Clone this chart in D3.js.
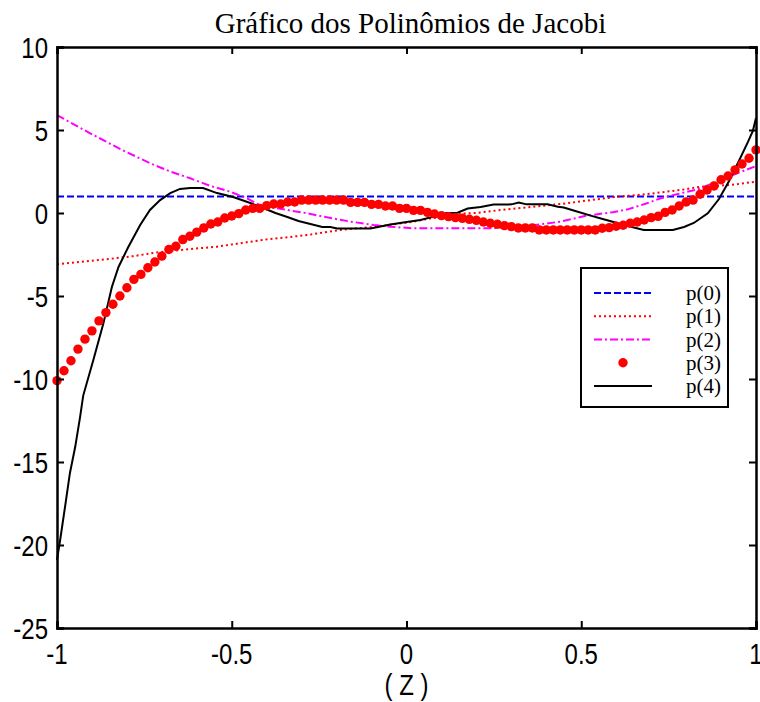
<!DOCTYPE html>
<html>
<head>
<meta charset="utf-8">
<script src="https://cdn.jsdelivr.net/npm/d3@7"></script>
<style>
  body { margin: 0; background: #fff; }
  text { fill: #000; }
</style>
</head>
<body>
<script>
var width = 760, height = 702

// x grid of the p(3) markers, step 0.02
var p3X = d3.range(101).map(function(i) { return -1 + i * 0.02 })
var p0Y = [1, 1]
var p0X = [-1, 1]

var p1X = [-1, -0.877, -0.782, -0.705, -0.619, -0.542, -0.447, -0.395, -0.284, -0.189, -0.095, 0.003, 0.097, 0.146, 0.2, 0.269, 0.335, 0.441, 0.527, 0.603, 0.69, 0.785, 0.842, 0.928, 1]
var p1Y = [-3.08, -2.83, -2.6, -2.35, -2.17, -2.03, -1.73, -1.58, -1.33, -1.02, -0.83, -0.58, -0.22, -0.05, 0.0, 0.18, 0.32, 0.54, 0.78, 0.98, 1.14, 1.39, 1.58, 1.69, 1.89]

var p2X = [-1, -0.905, -0.814, -0.734, -0.676, -0.619, -0.562, -0.504, -0.456, -0.418, -0.352, -0.284, -0.238, -0.16, -0.095, -0.046, 0.02, 0.249, 0.355, 0.441, 0.513, 0.59, 0.633, 0.69, 0.728, 0.785, 0.834, 0.9, 0.951, 1]
var p2Y = [5.9, 4.8, 3.8, 3.0, 2.5, 2.09, 1.64, 1.28, 0.88, 0.45, 0.22, -0.02, -0.22, -0.52, -0.72, -0.83, -0.92, -0.92, -0.76, -0.52, -0.17, 0.05, 0.22, 0.6, 0.89, 1.19, 1.43, 2.0, 2.43, 2.83]

var p3Y = [-10.1, -9.5, -8.9, -8.2, -7.6, -7.1, -6.5, -6.0, -5.5, -5.0,
  -4.5, -4.0, -3.7, -3.3, -2.95, -2.6, -2.2, -2.0, -1.6, -1.4,
  -1.15, -0.9, -0.66, -0.54, -0.3, -0.18, -0.04, 0.18, 0.28, 0.28,
  0.44, 0.54, 0.54, 0.66, 0.66, 0.78, 0.78, 0.78, 0.78, 0.78,
  0.78, 0.78, 0.64, 0.64, 0.64, 0.52, 0.52, 0.42, 0.42, 0.28,
  0.28, 0.16, 0.16, 0.04, -0.06, -0.16, -0.22, -0.28, -0.32, -0.38,
  -0.44, -0.54, -0.62, -0.68, -0.76, -0.82, -0.9, -0.9, -0.9, -1.02,
  -1.02, -1.02, -1.02, -1.02, -1.02, -1.02, -1.02, -1.02, -0.92, -0.88,
  -0.8, -0.74, -0.62, -0.54, -0.42, -0.28, -0.2, 0.04, 0.18, 0.42,
  0.66, 0.78, 1.13, 1.39, 1.63, 2.0, 2.23, 2.6, 2.95, 3.3,
  3.8]

var p4X = [-1, -0.991, -0.977, -0.963, -0.948, -0.934, -0.925, -0.896, -0.867, -0.843, -0.824, -0.796, -0.762, -0.734, -0.705, -0.676, -0.648, -0.619, -0.582, -0.542, -0.496, -0.447, -0.41, -0.375, -0.341, -0.309, -0.275, -0.241, -0.218, -0.198, -0.103, -0.046, 0.0, 0.04, 0.077, 0.115, 0.146, 0.175, 0.212, 0.249, 0.301, 0.321, 0.344, 0.404, 0.433, 0.45, 0.49, 0.527, 0.564, 0.605, 0.642, 0.679, 0.762, 0.794, 0.822, 0.862, 0.894, 0.923, 0.951, 0.977, 0.991, 1]
var p4Y = [-20.9, -19.7, -17.7, -15.66, -14.1, -12.3, -11.0, -8.86, -6.63, -4.46, -3.25, -2.05, -0.72, 0.18, 0.78, 1.2, 1.45, 1.5, 1.5, 1.2, 0.96, 0.6, 0.3, 0.0, -0.24, -0.48, -0.66, -0.84, -0.84, -0.93, -0.93, -0.69, -0.54, -0.42, -0.22, 0.0, 0.02, 0.27, 0.36, 0.51, 0.52, 0.63, 0.52, 0.52, 0.38, 0.33, 0.08, -0.16, -0.38, -0.62, -0.83, -1.02, -1.02, -0.84, -0.6, -0.02, 0.84, 1.93, 3.13, 4.28, 4.94, 5.72]

var xTicks = [-1, -0.5, 0, 0.5, 1]
var yTicks = [-25, -20, -15, -10, -5, 0, 5, 10]
var legendLabels = ["p(0)", "p(1)", "p(2)", "p(3)", "p(4)"]

var mLeft = 57, mRight = 756, mTop = 47, mBottom = 628

var x = d3.scaleLinear().domain([-1, 1]).range([mLeft, mRight])
var y = d3.scaleLinear().domain([-25, 10]).range([mBottom, mTop])

var svg = d3.select("body").append("svg")
    .attr("width", width)
    .attr("height", height)
    .style("font-family", "'Liberation Sans', Arial, sans-serif")

function zip(xs, ys) { return xs.map(function(v, i) { return [v, ys[i]] }) }

var line = d3.line()
    .x(function(d) { return x(d[0]) })
    .y(function(d) { return y(d[1]) })

// curves
svg.append("path") //p(0)
    .attr("d", line(zip(p0X, p0Y)))
    .attr("fill", "none")
    .attr("stroke", "#0000ff")
    .attr("stroke-width", 2)
    .attr("stroke-dasharray", "7,3")

svg.append("path") //p(1)
    .attr("d", line(zip(p1X, p1Y)))
    .attr("fill", "none")
    .attr("stroke", "#ff0000")
    .attr("stroke-width", 2)
    .attr("stroke-dasharray", "2,3")

svg.append("path") //p(2)
    .attr("d", line(zip(p2X, p2Y)))
    .attr("fill", "none")
    .attr("stroke", "#ff00ff")
    .attr("stroke-width", 2)
    .attr("stroke-dasharray", "8,3,2,3")

svg.append("path") //p(4)
    .attr("d", line(zip(p4X, p4Y)))
    .attr("fill", "none")
    .attr("stroke", "#000")
    .attr("stroke-width", 2)

svg.selectAll("circle.p3") //p(3) markers
    .data(zip(p3X, p3Y))
  .enter().append("circle")
    .attr("class", "p3")
    .attr("cx", function(d) { return x(d[0]) })
    .attr("cy", function(d) { return y(d[1]) })
    .attr("r", 4.7)
    .attr("fill", "#ff0000")

// axes box
var xAxisB = d3.axisBottom(x).tickValues(xTicks).tickSize(-7).tickFormat("")
var xAxisT = d3.axisTop(x).tickValues(xTicks).tickSize(-7).tickFormat("")
var yAxisL = d3.axisLeft(y).tickValues(yTicks).tickSize(-7).tickFormat("")
var yAxisR = d3.axisRight(y).tickValues(yTicks).tickSize(-7).tickFormat("")

var axes = [
  svg.append("g").attr("transform", "translate(0," + mBottom + ")").call(xAxisB),
  svg.append("g").attr("transform", "translate(0," + mTop + ")").call(xAxisT),
  svg.append("g").attr("transform", "translate(" + mLeft + ",0)").call(yAxisL),
  svg.append("g").attr("transform", "translate(" + mRight + ",0)").call(yAxisR)
]
axes.forEach(function(g) {
  g.select(".domain").attr("stroke-width", 2.5).attr("stroke", "#000")
  g.selectAll(".tick line").attr("stroke-width", 2).attr("stroke", "#000")
})

// tick labels: tall, narrow sans like the original
function narrow(sel, px, py) {
  sel.attr("transform", function(d) { return "translate(" + px(d) + "," + py(d) + ") scale(0.8,1)" })
    .style("font-size", "30px")
}

svg.selectAll("text.xl")
    .data(xTicks)
  .enter().append("text")
    .attr("class", "xl")
    .attr("text-anchor", "middle")
    .text(function(d) { return d })
    .call(narrow, function(d) { return x(d) }, function() { return 664 })

svg.selectAll("text.yl")
    .data(yTicks)
  .enter().append("text")
    .attr("class", "yl")
    .attr("text-anchor", "end")
    .text(function(d) { return d })
    .call(narrow, function() { return 48 }, function(d) { return y(d) + 11 })

svg.append("text")
    .attr("text-anchor", "middle")
    .datum(0)
    .text("( Z )")
    .call(narrow, function() { return (mLeft + mRight) / 2 }, function() { return 695 })

svg.append("text") //TITLE
    .attr("x", (mLeft + mRight) / 2 + 4)
    .attr("y", 33)
    .attr("text-anchor", "middle")
    .style("font-family", "'Liberation Serif', 'Times New Roman', serif")
    .style("font-size", "29px")
    .text("Gráfico dos Polinômios de Jacobi")

// legend
var lg = svg.append("g").attr("transform", "translate(581,268)")
lg.append("rect")
    .attr("width", 147).attr("height", 139)
    .attr("fill", "#fff").attr("stroke", "#000").attr("stroke-width", 2)

var legendStyle = [
  {stroke: "#0000ff", dash: "7,3"},
  {stroke: "#ff0000", dash: "2,3"},
  {stroke: "#ff00ff", dash: "8,3,2,3"},
  {marker: true},
  {stroke: "#000", dash: null}
]
var rowY = d3.scalePoint().domain(legendLabels).range([25, 118])

legendLabels.forEach(function(lab, i) {
  var s = legendStyle[i], ry = rowY(lab)
  if (s.marker) {
    lg.append("circle").attr("cx", 42).attr("cy", ry).attr("r", 4.7).attr("fill", "#ff0000")
  } else {
    lg.append("line")
      .attr("x1", 13).attr("x2", 71).attr("y1", ry).attr("y2", ry)
      .attr("stroke", s.stroke).attr("stroke-width", 2)
      .attr("stroke-dasharray", s.dash)
  }
  lg.append("text")
    .attr("x", 105).attr("y", ry + 7)
    .style("font-family", "'Liberation Serif', 'Times New Roman', serif")
    .style("font-size", "21px")
    .text(lab)
})
</script>
</body>
</html>
